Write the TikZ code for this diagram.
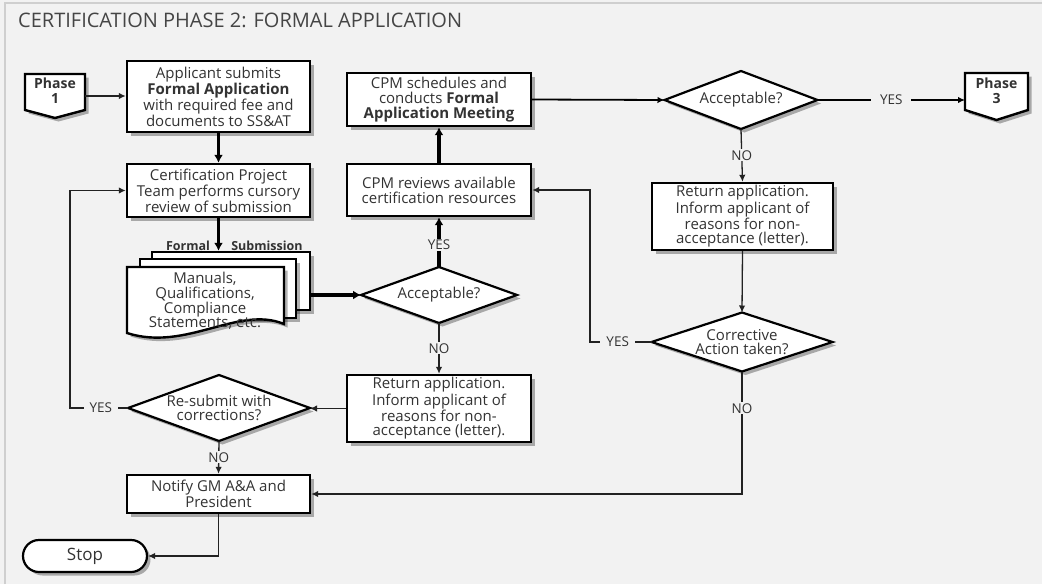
\documentclass[tikz,border=0pt]{standalone}
\usepackage{fontspec}
\setmainfont{Open Sans}
\usetikzlibrary{arrows.meta,shadows,calc}
\definecolor{pagebg}{HTML}{F2F2F2}
\definecolor{ink}{HTML}{333333}
\definecolor{titleink}{HTML}{454545}
\definecolor{framegray}{HTML}{CFCFCF}
\definecolor{wire}{HTML}{222222}

\pgfdeclarelayer{shapes}
\pgfsetlayers{shapes,main}

\tikzset{
  txt/.style={font=\fontsize{15}{14.8}\selectfont, text=ink, align=center},
  shade/.style={drop shadow={shadow xshift=3.5pt, shadow yshift=-3.5pt, opacity=0.3, fill=black}},
  proc/.style={txt, rectangle, draw=black, line width=2.4pt, fill=white, inner sep=0pt, shade},
  term/.style={txt, rectangle, rounded corners=16pt, draw=black, line width=2.2pt, fill=white, inner sep=0pt, shade,
    font=\fontsize{17}{19}\selectfont},
  outline/.style={draw=black, line width=2.4pt, fill=white, shade},
  holder/.style={rectangle, inner sep=0pt, outer sep=0pt},
  lbl/.style={font=\fontsize{13.5}{15}\selectfont, text=ink, fill=pagebg, inner xsep=5pt, inner ysep=1pt},
  boldlbl/.style={font=\fontsize{12.5}{14}\selectfont\bfseries, text=ink, inner sep=0pt},
  flow/.style={draw=wire, line width=1.3pt},
  medium/.style={draw=black, line width=1.8pt},
  heavy/.style={draw=black, line width=3.2pt},
  tipS/.style={-{Latex[length=7pt,width=6.5pt]}},
  tipL/.style={-{Latex[length=8pt,width=9pt]}},
}

% diamond outline drawn under the text of a decision node
\newcommand\decisionoutline[1]{%
  \begin{pgfonlayer}{shapes}
    \draw[outline, line width=2.2pt] (#1.west) -- (#1.north) -- (#1.east) -- (#1.south) -- cycle;
  \end{pgfonlayer}}

\begin{document}
\begin{tikzpicture}[x=1pt,y=-1pt]
% page
\useasboundingbox (0,0) rectangle (1042,584);
\begin{pgfonlayer}{shapes}
  \fill[pagebg] (0,0) rectangle (1042,584);
  \draw[framegray, line width=1.5pt] (5,584) -- (5,3) -- (1042,3);
\end{pgfonlayer}

% title
\node[anchor=west, inner sep=0pt, text=titleink, font=\fontsize{20}{22}\selectfont] (title) at (18,20)
  {CERTIFICATION PHASE 2: FORMAL APPLICATION};

% off-page connector: Phase 1
\node[holder, minimum width=60pt, minimum height=44pt] (p1) at (55,96) {};
\draw[outline] (p1.north west) -- (p1.north east) -- ([yshift=8pt]p1.south east)
  -- (p1.south) -- ([yshift=8pt]p1.south west) -- cycle;
\node[txt, font=\fontsize{14}{15}\selectfont\bfseries] (p1text) at (55,90.5) {Phase\\1};

% off-page connector: Phase 3
\node[holder, minimum width=63pt, minimum height=47pt] (p3) at (996.5,96.5) {};
\draw[outline] (p3.north west) -- (p3.north east) -- ([yshift=10pt]p3.south east)
  -- (p3.south) -- ([yshift=10pt]p3.south west) -- cycle;
\node[txt, font=\fontsize{14}{15}\selectfont\bfseries] (p3text) at (996.5,91) {Phase\\3};

% process boxes
\node[proc, minimum width=183pt, minimum height=71pt] (sub) at (218.5,96.5)
  {Applicant submits\\\textbf{Formal Application}\\with required fee and\\documents to SS\&AT};
\node[proc, minimum width=183pt, minimum height=53pt] (cpt) at (218.5,190.5)
  {Certification Project\\Team performs cursory\\review of submission};
\node[proc, minimum width=184pt, minimum height=53pt] (sch) at (439,99.5)
  {CPM schedules and\\conducts \textbf{Formal}\\\textbf{Application Meeting}};
\node[proc, minimum width=184pt, minimum height=52pt] (rev) at (439,190)
  {CPM reviews available\\certification resources};
\node[proc, minimum width=181pt, minimum height=67pt] (ret1) at (742.5,216.5)
  {Return application.\\Inform applicant of\\reasons for non-\\acceptance (letter).};
\node[proc, minimum width=184pt, minimum height=67pt] (ret2) at (439,408.5)
  {Return application.\\Inform applicant of\\reasons for non-\\acceptance (letter).};
\node[proc, minimum width=183pt, minimum height=38pt] (notify) at (218.5,494)
  {Notify GM A\&A and\\President};
\node[term, minimum width=124pt, minimum height=32pt] (stop) at (85,556) {Stop};

% stacked documents: formal submission
\node[proc, minimum width=158pt, minimum height=58pt] (doc3) at (231,281) {};
\node[proc, minimum width=156pt, minimum height=59pt] (doc2) at (218,288.5) {};
\node[holder, minimum width=157pt, minimum height=68pt] (doc1) at (205.5,301) {};
\draw[outline] (doc1.north west) -- (doc1.north east) -- (284,324)
  .. controls (238,305) and (186,352) .. (127,333) -- cycle;
\node[txt] (doctext) at (205,301) {Manuals,\\Qualifications,\\Compliance\\Statements, etc.};
\node[boldlbl] (formal) at (188,246) {Formal};
\node[boldlbl] (submission) at (267,246) {Submission};

% decisions
\node[txt, holder, minimum width=156pt, minimum height=56pt] (d1) at (439,295) {Acceptable?};
\node[txt, holder, minimum width=153pt, minimum height=58pt] (d2) at (741,100) {Acceptable?};
\node[txt, holder, minimum width=181pt, minimum height=59pt] (d3) at (742,342) {Corrective\\Action taken?};
\node[txt, holder, minimum width=182pt, minimum height=66pt] (d4) at (219,408) {Re-submit with\\corrections?};
\decisionoutline{d1}
\decisionoutline{d2}
\decisionoutline{d3}
\decisionoutline{d4}

% bends of the return loops
\coordinate (loop3) at (590,342);
\coordinate (loop4) at (70,408);

% connectors
\draw[flow, tipS] (p1.east) -- (p1.east -| sub.west);
\draw[heavy, tipL] (sub.south) -- (cpt.north);
\draw[heavy, tipL] (cpt.south) -- (cpt.south |- doc3.north);
\draw[heavy, tipL] (doc3.east |- d1.west) -- (d1.west);
\draw[heavy, tipL] (d1.north) -- node[lbl, pos=0.45] {YES} (rev.south);
\draw[heavy, tipL] (rev.north) -- (sch.south);
\draw[medium, tipS] (sch.east) -- (d2.west);
\draw[medium, tipS] (d2.east) -- node[lbl, inner xsep=9pt] {YES} (d2.east -| p3.west);
\draw[flow, tipS] (d2.south) -- node[lbl] {NO} (ret1.north);
\draw[flow, tipS] (ret1.south) -- (d3.north);
\draw[flow, tipS] (d3.west) -- node[lbl, pos=0.55, inner xsep=6pt] {YES} (loop3) |- (rev.east);
\draw[flow, tipS] (d3.south) -- node[lbl, pos=0.3] {NO} (d3.south |- notify.east) -- (notify.east);
\draw[flow, tipS] (d1.south) -- node[lbl] {NO} (ret2.north);
\draw[flow, tipS] (ret2.west) -- (ret2.west -| d4.east);
\draw[flow, tipS] (d4.west) -- node[lbl, pos=0.47, inner xsep=6pt] {YES} (loop4) |- (cpt.west);
\draw[flow, tipS] (d4.south) -- node[lbl] {NO} (notify.north);
\draw[flow, tipS] (notify.south) |- (stop.east);
\end{tikzpicture}
\end{document}
